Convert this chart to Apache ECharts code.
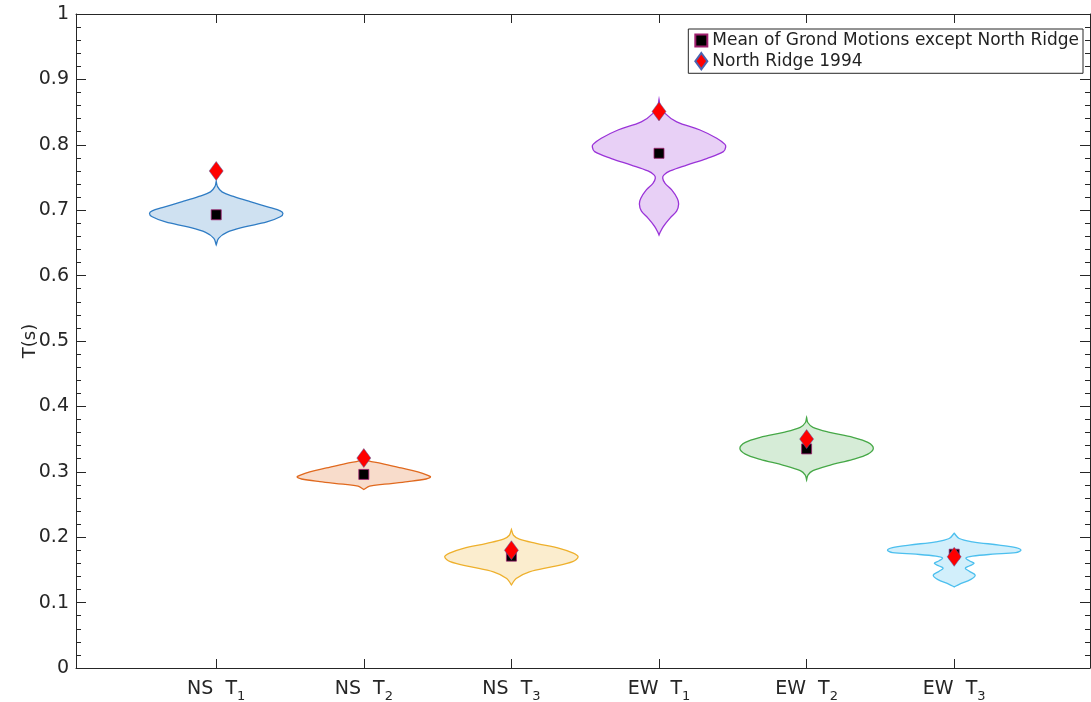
<!DOCTYPE html>
<html>
<head>
<meta charset="utf-8">
<script src="https://cdn.jsdelivr.net/npm/echarts@6/dist/echarts.min.js"></script>
<style>
html,body{margin:0;padding:0;background:#fff;overflow:hidden;}
#chart{width:1091px;height:702px;}
</style>
</head>
<body>
<div id="chart"></div>
<script>
// ---- data ----
const labelPrefix = ['NS', 'NS', 'NS', 'EW', 'EW', 'EW'];
const labelSub = ['1', '2', '3', '1', '2', '3'];
const yTicks = [0, 0.1, 0.2, 0.3, 0.4, 0.5, 0.6, 0.7, 0.8, 0.9, 1];

// violin profiles: [T value, half-width of density in category units]
const violinNST1 = [[0.744,0],[0.736,0.009],[0.728,0.039],[0.721,0.117],[0.713,0.230],[0.704,0.366],[0.699,0.434],[0.695,0.452],[0.690,0.434],[0.682,0.343],[0.674,0.185],[0.666,0.072],[0.657,0.016],[0.647,0]];
const violinNST2 = [[0.323,0],[0.317,0.027],[0.313,0.117],[0.306,0.253],[0.300,0.366],[0.2946,0.434],[0.292,0.452],[0.289,0.422],[0.285,0.298],[0.281,0.140],[0.278,0.039],[0.273,0]];
const violinNST3 = [[0.212,0],[0.203,0.014],[0.197,0.054],[0.1906,0.167],[0.183,0.325],[0.176,0.415],[0.170,0.452],[0.1625,0.415],[0.155,0.280],[0.147,0.122],[0.137,0.032],[0.127,0]];
const violinEWT1 = [[0.8695,0],[0.861,0.007],[0.848,0.041],[0.835,0.120],[0.8226,0.278],[0.810,0.391],[0.801,0.445],[0.797,0.452],[0.7895,0.436],[0.779,0.323],[0.769,0.188],[0.760,0.075],[0.754,0.034],[0.749,0.025],[0.741,0.041],[0.731,0.086],[0.718,0.124],[0.7095,0.133],[0.699,0.120],[0.688,0.075],[0.675,0.029],[0.666,0.007],[0.662,0]];
const violinEWT2 = [[0.383,0],[0.375,0.009],[0.368,0.043],[0.3604,0.156],[0.3527,0.314],[0.345,0.415],[0.336,0.452],[0.327,0.415],[0.319,0.314],[0.310,0.156],[0.3017,0.043],[0.295,0.009],[0.2875,0]];
const violinEWT3 = [[0.206,0],[0.198,0.034],[0.193,0.124],[0.188,0.305],[0.184,0.418],[0.180,0.452],[0.1764,0.418],[0.174,0.259],[0.171,0.124],[0.168,0.079],[0.164,0.102],[0.160,0.135],[0.156,0.102],[0.1525,0.075],[0.148,0.102],[0.142,0.142],[0.1356,0.113],[0.128,0.034],[0.124,0]];
const violinProfiles = [violinNST1, violinNST2, violinNST3, violinEWT1, violinEWT2, violinEWT3];

const meanValues = [0.693, 0.296, 0.171, 0.787, 0.335, 0.174];
const northRidgeValues = [0.760, 0.321, 0.180, 0.851, 0.350, 0.170];

const seriesNames = ['Mean of Grond Motions except North Ridge', 'North Ridge 1994'];
const violinEdge = ['#2f7cc4', '#e0691e', '#eeb02c', '#9a33d8', '#46a847', '#4cbfee'];
const violinFill = ['rgba(47,124,196,0.23)', 'rgba(224,105,30,0.23)', 'rgba(238,176,44,0.23)', 'rgba(154,51,216,0.23)', 'rgba(70,168,71,0.22)', 'rgba(76,191,238,0.25)'];

// ---- chart ----
const chart = echarts.init(document.getElementById('chart'), null, {renderer: 'canvas'});
const axisColor = '#262626';
const font = '"DejaVu Sans", Verdana, sans-serif';
const idx = labelPrefix.map((_, i) => i);

const option = {
  backgroundColor: '#fff',
  animation: false,
  textStyle: {fontFamily: font},
  grid: {left: 76, right: 1, top: 14, bottom: 34, containLabel: false, outerBoundsMode: 'none'},
  legend: {
    orient: 'vertical',
    right: 8,
    top: 29,
    padding: [3, 4, 3, 6],
    itemGap: 3,
    itemWidth: 12,
    itemHeight: 17,
    backgroundColor: '#fff',
    borderColor: axisColor,
    borderWidth: 1,
    borderRadius: 0,
    textStyle: {fontSize: 17, color: '#222', fontFamily: font, lineHeight: 17},
    data: [
      {name: seriesNames[0], icon: 'path://M0 0h10v10H0z'},
      {name: seriesNames[1], icon: 'path://M7 0L14 9.5L7 19L0 9.5Z'}
    ],
    selectedMode: false
  },
  xAxis: [
    {
      type: 'value', min: -0.95, max: 5.92, position: 'bottom',
      splitLine: {show: false},
      axisLine: {show: true, onZero: false, lineStyle: {color: axisColor, width: 1}},
      axisTick: {show: true, inside: true, length: 9, customValues: idx, lineStyle: {color: axisColor}},
      axisLabel: {
        customValues: idx, margin: 11, color: axisColor,
        formatter: v => '{a|' + labelPrefix[Math.round(v)] + '  T}{s|' + labelSub[Math.round(v)] + '}',
        rich: {
          a: {fontSize: 19, color: axisColor, fontFamily: font, verticalAlign: 'bottom', lineHeight: 20},
          s: {fontSize: 13, color: axisColor, fontFamily: font, verticalAlign: 'bottom', lineHeight: 20, padding: [0, 0, -4, 0]}
        }
      }
    },
    {
      type: 'value', min: -0.95, max: 5.92, position: 'top',
      splitLine: {show: false},
      axisLine: {show: true, onZero: false, lineStyle: {color: axisColor, width: 1}},
      axisTick: {show: true, inside: true, length: 9, customValues: idx, lineStyle: {color: axisColor}},
      axisLabel: {show: false}
    }
  ],
  yAxis: [
    {
      type: 'value', min: 0, max: 1, interval: 0.1, position: 'left',
      name: 'T(s)', nameLocation: 'middle', nameGap: 37, nameRotate: 90, nameMoveOverlap: false,
      nameTextStyle: {fontSize: 18, color: axisColor, fontFamily: font},
      splitLine: {show: false},
      axisLine: {show: true, onZero: false, lineStyle: {color: axisColor, width: 1}},
      axisTick: {show: true, inside: true, length: 10, lineStyle: {color: axisColor}},
      minorTick: {show: true, splitNumber: 5, length: 5, lineStyle: {color: axisColor}},
      axisLabel: {fontSize: 19, color: axisColor, margin: 7, fontFamily: font,
        customValues: yTicks, formatter: v => String(Math.round(v * 10) / 10)}
    },
    {
      type: 'value', min: 0, max: 1, interval: 0.1, position: 'right',
      splitLine: {show: false},
      axisLine: {show: true, onZero: false, lineStyle: {color: axisColor, width: 1}},
      axisTick: {show: true, inside: true, length: 10, lineStyle: {color: axisColor}},
      minorTick: {show: true, splitNumber: 5, length: 5, lineStyle: {color: axisColor}},
      axisLabel: {show: false}
    }
  ],
  series: [
    {
      type: 'custom',
      name: 'violins',
      xAxisIndex: 0, yAxisIndex: 0,
      data: idx.map(i => [i]),
      encode: {x: 0},
      z: 2,
      renderItem: function (params, api) {
        const i = params.dataIndex;
        const prof = violinProfiles[i];
        const right = prof.map(p => api.coord([i + p[1], p[0]]));
        const left = prof.slice().reverse().map(p => api.coord([i - p[1], p[0]]));
        return {
          type: 'polygon',
          shape: {points: right.concat(left), smooth: 0.35},
          style: {fill: violinFill[i], stroke: violinEdge[i], lineWidth: 1.3}
        };
      }
    },
    {
      type: 'scatter',
      name: seriesNames[0],
      xAxisIndex: 0, yAxisIndex: 0,
      symbol: 'rect',
      symbolSize: 10,
      z: 4,
      itemStyle: {color: '#000', borderColor: '#a0206e', borderWidth: 0.8, opacity: 1},
      data: meanValues.map((v, i) => [i, v])
    },
    {
      type: 'scatter',
      name: seriesNames[1],
      xAxisIndex: 0, yAxisIndex: 0,
      symbol: 'diamond',
      symbolSize: [14, 19],
      z: 5,
      itemStyle: {color: '#ff0000', borderColor: '#4a63b0', borderWidth: 0.5, opacity: 1},
      data: northRidgeValues.map((v, i) => [i, v])
    }
  ]
};
chart.setOption(option);
</script>
</body>
</html>
